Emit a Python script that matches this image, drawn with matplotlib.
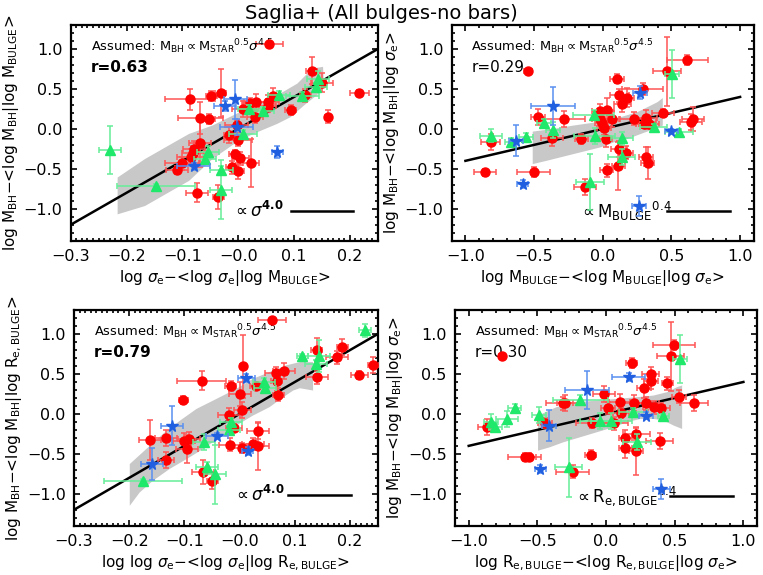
import numpy as np
import matplotlib
matplotlib.use("Agg")
from matplotlib import pyplot as plt
from matplotlib.ticker import FixedLocator, MultipleLocator

# ---------------- panel 1: sigma | M_bulge ----------------
p1_red_x = [0.056, 0.217, 0.161, 0.132, 0.15, 0.12, 0.094, 0.063, 0.053, 0.053, 0.031, 0.021, 0.008, 0.03,
            -0.087, -0.048, -0.031, -0.068, -0.052, -0.003, 0.0, -0.006, 0.004, 0.0, -0.011, 0.023, -0.016,
            -0.069, -0.079, -0.081, -0.085, -0.101, -0.11, -0.074, -0.036]
p1_red_y = [1.06, 0.45, 0.155, 0.73, 0.58, 0.42, 0.24, 0.41, 0.34, 0.29, 0.34, 0.33, 0.25, 0.15,
            0.37, 0.41, 0.45, 0.135, 0.126, 0.05, -0.135, -0.32, -0.37, -0.53, -0.48, -0.43, -0.08,
            -0.18, -0.25, -0.30, -0.35, -0.43, -0.51, -0.80, -0.85]
p1_red_xe = [0.025, 0.017, 0.005, 0.01, 0.02, 0.01, 0.01, 0.01, 0.02, 0.015, 0.02, 0.015, 0.02, 0.015,
             0.045, 0.01, 0.01, 0.04, 0.01, 0.02, 0.025, 0.01, 0.015, 0.01, 0.01, 0.015, 0.01,
             0.02, 0.02, 0.02, 0.025, 0.03, 0.02, 0.02, 0.01]
p1_red_ye = [0.02, 0.04, 0.08, 0.17, 0.12, 0.08, 0.06, 0.1, 0.08, 0.08, 0.1, 0.06, 0.1, 0.08,
             0.13, 0.06, 0.3, 0.2, 0.06, 0.06, 0.08, 0.06, 0.08, 0.1, 0.08, 0.3, 0.1,
             0.3, 0.1, 0.08, 0.1, 0.08, 0.05, 0.12, 0.15]
p1_grn_x = [-0.23, -0.147, -0.031, -0.03, -0.054, -0.06, 0.008, 0.02, 0.044, 0.073, 0.115, 0.139, 0.143]
p1_grn_y = [-0.27, -0.72, -0.76, -0.52, -0.29, -0.38, -0.06, 0.25, 0.22, 0.42, 0.41, 0.52, 0.62]
p1_grn_xe = [0.02, 0.07, 0.02, 0.02, 0.02, 0.02, 0.025, 0.02, 0.02, 0.02, 0.03, 0.02, 0.02]
p1_grn_ye = [0.3, 0.03, 0.37, 0.05, 0.08, 0.05, 0.05, 0.05, 0.05, 0.05, 0.05, 0.06, 0.1]
p1_blu_x = [-0.005, -0.024, -0.003, -0.08, 0.07]
p1_blu_y = [0.37, 0.29, 0.02, -0.47, -0.29]
p1_blu_xe = [0.02, 0.02, 0.03, 0.03, 0.01]
p1_blu_ye = [0.24, 0.06, 0.1, 0.04, 0.07]
p1_band_x = [-0.216, -0.167, -0.125, -0.088, -0.046, -0.003, 0.027, 0.070, 0.106, 0.133, 0.152,
             0.153, 0.148, 0.118, 0.094, 0.07, 0.027, -0.003, -0.046, -0.088, -0.125, -0.167, -0.216]
p1_band_y = [-0.609, -0.378, -0.21, -0.063, 0.042, 0.189, 0.294, 0.42, 0.567, 0.756, 0.777,
             0.63, 0.462, 0.294, 0.147, 0.063, -0.063, -0.168, -0.378, -0.651, -0.798, -0.966, -1.07]

# ---------------- panel 2: M_bulge | sigma ----------------
p2_red_x = [-0.547, 0.616, 0.469, 0.106, 0.12, 0.143, 0.18, 0.29, 0.437, -0.02, 0.033, 0.065, -0.02,
            -0.009, 0.011, 0.02, -0.155, 0.224, 0.317, 0.32, 0.337, 0.30, 0.64, 0.657, -0.474, -0.283,
            -0.37, -0.816, -0.858, -0.503, -0.126, 0.028, 0.114, 0.12, 0.17, 0.314, 0.326]
p2_red_y = [0.72, 0.86, 0.72, 0.63, 0.42, 0.315, 0.39, 0.50, 0.20, 0.23, 0.24, 0.126, 0.126,
            0.076, 0.008, -0.126, -0.126, 0.126, 0.134, 0.084, 0.063, 0.063, 0.092, 0.126, 0.147, 0.118,
            -0.118, -0.16, -0.546, -0.54, -0.727, -0.517, -0.46, -0.25, -0.30, -0.35, -0.43]
p2_red_xe = [0.03, 0.15, 0.1, 0.05, 0.07, 0.06, 0.05, 0.15, 0.08, 0.06, 0.05, 0.05, 0.06,
             0.05, 0.05, 0.05, 0.05, 0.1, 0.08, 0.07, 0.07, 0.06, 0.08, 0.08, 0.05, 0.15,
             0.08, 0.07, 0.08, 0.12, 0.08, 0.05, 0.05, 0.06, 0.05, 0.05, 0.05]
p2_red_ye = [0.02, 0.06, 0.43, 0.06, 0.08, 0.1, 0.12, 0.08, 0.05, 0.08, 0.15, 0.1, 0.08,
             0.08, 0.08, 0.1, 0.06, 0.08, 0.1, 0.08, 0.06, 0.05, 0.1, 0.15, 0.1, 0.1,
             0.1, 0.1, 0.04, 0.06, 0.1, 0.08, 0.3, 0.1, 0.08, 0.12, 0.2]
p2_grn_x = [0.505, -0.065, -0.43, -0.364, -0.816, -0.665, -0.56, -0.058, 0.138, 0.138, 0.37, 0.555, -0.094]
p2_grn_y = [0.69, 0.176, 0.07, -0.013, -0.084, -0.168, -0.105, -0.092, -0.118, -0.357, 0.021, -0.034, -0.67]
p2_grn_xe = [0.05, 0.15, 0.05, 0.05, 0.08, 0.05, 0.05, 0.15, 0.08, 0.1, 0.1, 0.1, 0.1]
p2_grn_ye = [0.3, 0.06, 0.05, 0.1, 0.08, 0.06, 0.05, 0.1, 0.08, 0.1, 0.04, 0.03, 0.35]
p2_blu_x = [-0.364, -0.633, -0.584, 0.273, 0.5, 0.265]
p2_blu_y = [0.286, -0.147, -0.693, 0.454, -0.029, -0.966]
p2_blu_xe = [0.16, 0.05, 0.04, 0.05, 0.05, 0.05]
p2_blu_ye = [0.24, 0.19, 0.05, 0.08, 0.03, 0.12]
p2_band_x = [-0.51, -0.359, -0.212, -0.04, 0.131, 0.253, 0.327, 0.40, 0.437,
             0.437, 0.376, 0.278, 0.18, 0.082, -0.016, -0.114, -0.212, -0.31, -0.407, -0.51]
p2_band_y = [-0.034, 0.0, 0.042, 0.084, 0.147, 0.21, 0.273, 0.336, 0.387,
             0.042, 0.0, -0.063, -0.126, -0.168, -0.231, -0.273, -0.315, -0.357, -0.399, -0.441]

# ---------------- panel 3: sigma | R_e ----------------
p3_red_x = [0.059, 0.14, 0.186, 0.176, 0.242, 0.217, 0.14, 0.081, 0.066, 0.067, 0.07, 0.006, -0.016,
            0.001, 0.005, 0.029, -0.069, -0.102, -0.02, -0.018, -0.01, 0.005, 0.033, 0.025, 0.033,
            -0.163, -0.134, -0.133, -0.1, -0.095, -0.092, -0.066, -0.05]
p3_red_y = [1.18, 0.795, 0.837, 0.71, 0.607, 0.49, 0.46, 0.535, 0.51, 0.41, 0.24, 0.594, 0.347,
            0.25, 0.05, 0.347, 0.418, 0.18, -0.008, -0.385, -0.176, -0.43, -0.21, -0.377, -0.406,
            -0.322, -0.301, -0.573, -0.335, -0.44, -0.31, -0.73, -0.837]
p3_red_xe = [0.025, 0.01, 0.01, 0.02, 0.01, 0.015, 0.02, 0.02, 0.02, 0.01, 0.01, 0.005, 0.01,
             0.02, 0.015, 0.01, 0.045, 0.008, 0.02, 0.02, 0.015, 0.02, 0.02, 0.02, 0.02,
             0.02, 0.02, 0.015, 0.02, 0.02, 0.02, 0.02, 0.01]
p3_red_ye = [0.02, 0.15, 0.1, 0.08, 0.1, 0.05, 0.08, 0.1, 0.08, 0.12, 0.08, 0.4, 0.06,
             0.15, 0.1, 0.05, 0.12, 0.05, 0.08, 0.08, 0.05, 0.06, 0.1, 0.08, 0.3,
             0.25, 0.1, 0.1, 0.1, 0.18, 0.08, 0.15, 0.1]
p3_grn_x = [0.227, 0.113, 0.143, 0.139, 0.044, 0.046, -0.016, -0.019, -0.065, -0.059, -0.044, -0.175]
p3_grn_y = [1.046, 0.72, 0.72, 0.628, 0.40, 0.32, -0.105, -0.197, -0.356, -0.66, -0.753, -0.845]
p3_grn_xe = [0.01, 0.01, 0.02, 0.02, 0.02, 0.02, 0.02, 0.02, 0.02, 0.02, 0.02, 0.07]
p3_grn_ye = [0.08, 0.03, 0.2, 0.05, 0.05, 0.06, 0.06, 0.05, 0.1, 0.06, 0.37, 0.03]
p3_blu_x = [0.012, -0.122, -0.158, -0.041, 0.015]
p3_blu_y = [0.448, -0.146, -0.628, -0.28, -0.469]
p3_blu_xe = [0.015, 0.02, 0.02, 0.02, 0.01]
p3_blu_ye = [0.05, 0.24, 0.2, 0.04, 0.05]
p3_band_x = [-0.199, -0.169, -0.139, -0.108, -0.078, -0.048, -0.024, -0.006, 0.024, 0.054, 0.084, 0.109, 0.133,
             0.133, 0.109, 0.097, 0.079, 0.054, 0.024, -0.006, -0.036, -0.066, -0.096, -0.127, -0.157, -0.181, -0.199]
p3_band_y = [-0.628, -0.439, -0.251, -0.084, 0.063, 0.167, 0.251, 0.314, 0.439, 0.523, 0.607, 0.649, 0.649,
             0.293, 0.322, 0.293, 0.209, 0.084, -0.021, -0.146, -0.293, -0.439, -0.565, -0.69, -0.837, -0.983, -1.15]

# ---------------- panel 4: R_e | sigma ----------------
p4_red_x = [-0.756, 0.495, 0.47, 0.188, 0.324, 0.329, 0.276, 0.444, 0.532, 0.641, -0.012, 0.012, 0.098,
            0.2, 0.288, 0.349, 0.402, 0.11, -0.317, -0.30, -0.87, -0.446, -0.102, 0.061, 0.141, 0.141,
            0.22, 0.22, 0.39, -0.593, -0.56, -0.11, -0.244]
p4_red_y = [0.72, 0.866, 0.72, 0.636, 0.502, 0.418, 0.322, 0.385, 0.218, 0.134, 0.25, 0.075, 0.146,
            0.138, 0.134, 0.084, 0.075, 0.008, 0.134, 0.14, -0.159, -0.117, -0.117, -0.117, -0.301, -0.427,
            -0.251, -0.46, -0.335, -0.536, -0.544, -0.51, -0.724]
p4_red_xe = [0.02, 0.15, 0.1, 0.04, 0.06, 0.05, 0.05, 0.04, 0.05, 0.1, 0.08, 0.05, 0.08,
             0.08, 0.1, 0.08, 0.06, 0.06, 0.12, 0.06, 0.06, 0.05, 0.12, 0.1, 0.05, 0.05,
             0.1, 0.05, 0.1, 0.12, 0.05, 0.04, 0.12]
p4_red_ye = [0.02, 0.06, 0.43, 0.06, 0.08, 0.1, 0.12, 0.08, 0.08, 0.1, 0.1, 0.08, 0.1,
             0.1, 0.08, 0.08, 0.06, 0.06, 0.08, 0.1, 0.1, 0.06, 0.06, 0.08, 0.1, 0.12,
             0.08, 0.3, 0.1, 0.05, 0.05, 0.06, 0.08]
p4_grn_x = [0.541, -0.188, -0.666, -0.837, -0.805, -0.724, -0.488, -0.041, 0.037, 0.195, 0.415, 0.224, -0.273]
p4_grn_y = [0.69, 0.176, 0.071, -0.105, -0.167, -0.063, -0.013, -0.092, -0.092, 0.021, -0.029, -0.356, -0.67]
p4_grn_xe = [0.05, 0.2, 0.05, 0.05, 0.05, 0.08, 0.05, 0.15, 0.15, 0.1, 0.04, 0.1, 0.1]
p4_grn_ye = [0.3, 0.06, 0.05, 0.1, 0.05, 0.1, 0.1, 0.1, 0.1, 0.05, 0.03, 0.1, 0.37]
p4_blu_x = [-0.139, 0.166, -0.415, 0.293, -0.48, 0.402]
p4_blu_y = [0.30, 0.46, -0.146, -0.021, -0.69, -0.94]
p4_blu_xe = [0.16, 0.12, 0.05, 0.05, 0.04, 0.06]
p4_blu_ye = [0.24, 0.05, 0.19, 0.04, 0.05, 0.12]
p4_band_x = [-0.495, -0.361, -0.215, -0.068, 0.078, 0.224, 0.346, 0.444, 0.517, 0.554,
             0.554, 0.493, 0.420, 0.346, 0.249, 0.151, 0.054, -0.068, -0.190, -0.312, -0.410, -0.495]
p4_band_y = [-0.021, 0.084, 0.146, 0.167, 0.188, 0.209, 0.23, 0.272, 0.335, 0.356,
             -0.188, -0.146, -0.084, -0.063, -0.063, -0.105, -0.167, -0.230, -0.293, -0.356, -0.418, -0.460]

# slopes of the black fit lines and correlation coefficients
slopes = [4.0, 0.4, 4.0, 0.4]
r_text = ["r=0.63", "r=0.29", "r=0.79", "r=0.30"]
r_bold = [True, False, True, False]

sig_ticks = [-0.3, -0.2, -0.1, 0.0, 0.1, 0.2]
sig_labels = ["\u22120.3", "\u22120.2", "\u22120.1", "\u22120.0", "0.1", "0.2"]
mb_ticks = [-1.0, -0.5, 0.0, 0.5, 1.0]
mb_labels = ["\u22121.0", "\u22120.5", "0.0", "0.5", "1.0"]
y_ticks = [-1.0, -0.5, 0.0, 0.5, 1.0]
y_labels = ["\u22121.0", "\u22120.5", "0.0", "0.5", "1.0"]

xlabels = [r"log $\sigma_{\rm e}$$-$<log $\sigma_{\rm e}$|log M$_{\rm BULGE}$>",
           r"log M$_{\rm BULGE}$$-$<log M$_{\rm BULGE}$|log $\sigma_{\rm e}$>",
           r"log log $\sigma_{\rm e}$$-$<log $\sigma_{\rm e}$|log R$_{\rm e,BULGE}$>",
           r"log R$_{\rm e,BULGE}$$-$<log R$_{\rm e,BULGE}$|log $\sigma_{\rm e}$>"]
ylabels = [r"log M$_{\rm BH}$$-$<log M$_{\rm BH}$|log M$_{\rm BULGE}$>",
           r"log M$_{\rm BH}$$-$<log M$_{\rm BH}$|log $\sigma_{\rm e}$>",
           r"log M$_{\rm BH}$$-$<log M$_{\rm BH}$|log R$_{\rm e,BULGE}$>",
           r"log M$_{\rm BH}$$-$<log M$_{\rm BH}$|log $\sigma_{\rm e}$>"]
scale_text = [r"$\propto\sigma^{\bf 4.0}$", r"$\propto$M$_{\rm BULGE}$$^{0.4}$",
              r"$\propto\sigma^{\bf 4.0}$", r"$\propto$R$_{\rm e,BULGE}$$^{0.4}$"]
scale_text_x = [-0.012, -0.17, -0.012, -0.23]
scale_line_x = [[0.094, 0.206], [0.47, 0.925], [0.087, 0.202], [0.463, 0.927]]
scale_line_y = [-1.03, -1.03, -1.02, -1.03]

assumed = r"Assumed: M$_{\rm BH}$$\propto$M$_{\rm STAR}$$^{0.5}$$\sigma^{4.5}$"

RED, RED_E = "#ff0000", "#ff5555"
GRN, GRN_E = "#1fe86a", "#66ee99"
BLU, BLU_E = "#1f5fe0", "#5a8ff0"

plt.rcParams["font.family"] = "DejaVu Sans"
plt.rcParams["mathtext.fontset"] = "dejavusans"

fig = plt.figure(figsize=(7.63, 5.75), dpi=100)
positions = [[0.0927, 0.5814, 0.4024, 0.375],
             [0.592, 0.5814, 0.396, 0.375],
             [0.097, 0.0857, 0.398, 0.375],
             [0.5963, 0.0857, 0.396, 0.375]]

panels = [
    (p1_red_x, p1_red_y, p1_red_xe, p1_red_ye, p1_grn_x, p1_grn_y, p1_grn_xe, p1_grn_ye,
     p1_blu_x, p1_blu_y, p1_blu_xe, p1_blu_ye, p1_band_x, p1_band_y),
    (p2_red_x, p2_red_y, p2_red_xe, p2_red_ye, p2_grn_x, p2_grn_y, p2_grn_xe, p2_grn_ye,
     p2_blu_x, p2_blu_y, p2_blu_xe, p2_blu_ye, p2_band_x, p2_band_y),
    (p3_red_x, p3_red_y, p3_red_xe, p3_red_ye, p3_grn_x, p3_grn_y, p3_grn_xe, p3_grn_ye,
     p3_blu_x, p3_blu_y, p3_blu_xe, p3_blu_ye, p3_band_x, p3_band_y),
    (p4_red_x, p4_red_y, p4_red_xe, p4_red_ye, p4_grn_x, p4_grn_y, p4_grn_xe, p4_grn_ye,
     p4_blu_x, p4_blu_y, p4_blu_xe, p4_blu_ye, p4_band_x, p4_band_y),
]

for i, d in enumerate(panels):
    ax = fig.add_axes(positions[i])
    (rx, ry, rxe, rye, gx, gy, gxe, gye, bx, by, bxe, bye, bandx, bandy) = d
    is_sig = i in (0, 2)
    xlim = (-0.3, 0.25) if is_sig else (-1.1, 1.1)
    ax.set_xlim(*xlim)
    ax.set_ylim(-1.4, 1.3)

    ax.fill(bandx, bandy, color="#c8c8c8", lw=0, zorder=1)
    xl = np.array([-0.3, 0.25]) if is_sig else np.array([-1.0, 1.0])
    ax.plot(xl, slopes[i] * xl, color="black", lw=1.8, zorder=2)

    ax.errorbar(rx, ry, xerr=rxe, yerr=rye, fmt="o", color=RED, ecolor=RED_E, ms=6.5,
                elinewidth=1.1, capsize=2, capthick=1.1, zorder=3)
    ax.errorbar(gx, gy, xerr=gxe, yerr=gye, fmt="^", color=GRN, ecolor=GRN_E, ms=6.5,
                elinewidth=1.1, capsize=2, capthick=1.1, zorder=4)
    ax.errorbar(bx, by, xerr=bxe, yerr=bye, fmt="*", color=BLU, ecolor=BLU_E, ms=8.5,
                elinewidth=1.1, capsize=2, capthick=1.1, zorder=5)

    # scale bar in the lower right
    ax.plot(scale_line_x[i], [scale_line_y[i]] * 2, color="black", lw=1.8)
    ax.text(scale_text_x[i], scale_line_y[i], scale_text[i], fontsize=12,
            ha="left", va="center")

    ax.text(0.065, 0.90, assumed, transform=ax.transAxes, fontsize=9.4, va="center")
    ax.text(0.065, 0.805, r_text[i], transform=ax.transAxes, fontsize=11, va="center",
            fontweight="bold" if r_bold[i] else "normal")

    if is_sig:
        ax.xaxis.set_major_locator(FixedLocator(sig_ticks))
        ax.set_xticklabels(sig_labels)
        ax.xaxis.set_minor_locator(MultipleLocator(0.01))
    else:
        ax.xaxis.set_major_locator(FixedLocator(mb_ticks))
        ax.set_xticklabels(mb_labels)
        ax.xaxis.set_minor_locator(MultipleLocator(0.1))
    ax.yaxis.set_major_locator(FixedLocator(y_ticks))
    ax.set_yticklabels(y_labels)
    ax.yaxis.set_minor_locator(MultipleLocator(0.1))
    ax.tick_params(which="both", direction="in", top=True, right=True, width=1.2, labelsize=11.5)
    ax.tick_params(which="major", length=4.5, pad=6)
    ax.tick_params(which="minor", length=2)
    for sp in ax.spines.values():
        sp.set_linewidth(1.6)

    ax.set_xlabel(xlabels[i], fontsize=11, labelpad=3)
    ax.set_ylabel(ylabels[i], fontsize=11, labelpad=2)

fig.text(0.5, 0.977, "Saglia+ (All bulges-no bars)", ha="center", va="center", fontsize=14)

fig.savefig("out.png", dpi=100)
